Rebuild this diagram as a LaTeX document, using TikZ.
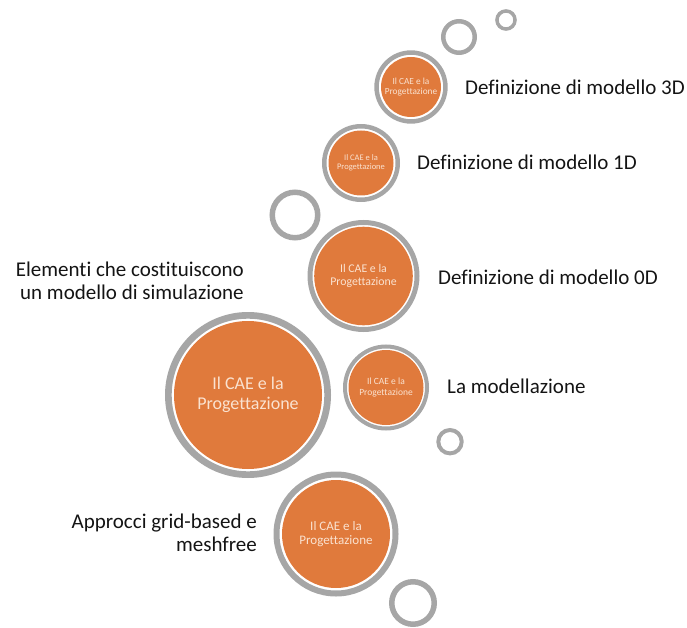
\documentclass[tikz,border=0pt]{standalone}
\usepackage{fontspec}
\setmainfont{Carlito}[Ligatures=NoCommon]
\definecolor{orb}{RGB}{224,122,60}
\definecolor{ringgray}{RGB}{166,166,166}
\definecolor{orbtext}{RGB}{250,226,208}
\definecolor{labeltext}{RGB}{20,20,20}
\tikzset{
  ringonly/.style={circle, draw=ringgray, inner sep=0pt},
  orbfill/.style={circle, fill=orb, inner sep=0pt, text=orbtext, align=center},
  lbl/.style={inner sep=0pt, text=labeltext, font=\fontsize{21}{23.3}\selectfont},
}
% #1 name, #2 x, #3 y, #4 outer radius, #5 ring thickness, #6 gap, #7 font size
\newcommand{\mkorb}[7]{%
  \pgfmathsetmacro{\orbskip}{#7*1.12}%
  \node[ringonly, line width=#5pt, minimum size={2*#4-#5}] (#1ring) at (#2,#3) {};
  \node[orbfill, minimum size={2*(#4-#5-#6)}, font=\fontsize{#7}{\orbskip}\selectfont] (#1) at (#2,#3) {Il CAE e la\\Progettazione};
}
\begin{document}
\begin{tikzpicture}[x=1pt,y=-1pt]
\useasboundingbox (0,0) rectangle (687,628);
% plain rings
\node[ringonly, line width=3.5pt, minimum size=18.1pt] (r1) at (506,20) {};
\node[ringonly, line width=4.5pt, minimum size=31.5pt] (r2) at (459,37) {};
\node[ringonly, line width=5.5pt, minimum size=45.5pt] (r5) at (295,215) {};
\node[ringonly, line width=4pt, minimum size=23.4pt] (r9) at (450,441.7) {};
\node[ringonly, line width=5.5pt, minimum size=42.5pt] (r11) at (413,603) {};
% orbs
\mkorb{o3}{411}{87}{36.7}{4.5}{2.2}{9.3}
\mkorb{o4}{361}{163}{39}{4.5}{2}{8.5}
\mkorb{o6}{363.5}{276}{56}{5}{1.7}{11.8}
\mkorb{o7}{248}{395}{83}{6.7}{2.3}{18}
\mkorb{o8}{386}{387.5}{43}{4}{1.5}{9.5}
\mkorb{o10}{336}{534}{62.5}{6}{2.5}{13}
% labels
\node[lbl, anchor=west] (l3d) at (465,87) {Definizione di modello 3D};
\node[lbl, anchor=west] (l1d) at (417,162) {Definizione di modello 1D};
\node[lbl, anchor=west] (l0d) at (438,277) {Definizione di modello 0D};
\node[lbl, anchor=west] (lmod) at (447,386) {La modellazione};
\node[lbl, anchor=east, align=right] (lel) at (244,281) {Elementi che costituiscono\\un modello di simulazione};
\node[lbl, anchor=east, align=right] (lap) at (257,533) {Approcci grid-based e\\meshfree};
\end{tikzpicture}
\end{document}
